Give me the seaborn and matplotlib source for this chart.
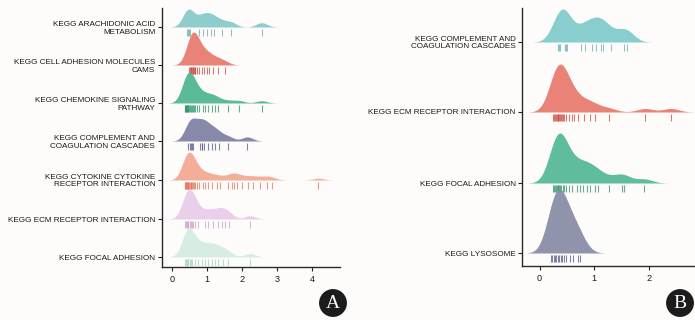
import numpy as np
import seaborn as sns
import matplotlib.pyplot as plt

# panel A: values
a_arachidonic = [0.42, 0.45, 0.47, 0.49, 0.76, 0.87, 0.98, 1.10, 1.20, 1.41, 1.68, 2.55]
a_cams = [0.48, 0.50, 0.52, 0.54, 0.56, 0.58, 0.60, 0.62, 0.64, 0.66, 0.70, 0.77, 0.84, 0.91, 0.98,
          1.06, 1.17, 1.31, 1.49]
a_chemokine = [0.36, 0.37, 0.39, 0.40, 0.42, 0.43, 0.45, 0.46, 0.48, 0.50, 0.52, 0.55, 0.58, 0.62,
               0.65, 0.70, 0.77, 0.87, 0.93, 1.03, 1.12, 1.22, 1.31, 1.60, 1.91, 2.55]
a_complement = [0.46, 0.50, 0.52, 0.56, 0.60, 0.79, 0.84, 0.86, 0.89, 1.03, 1.12, 1.22, 1.34, 1.60, 2.14]
a_cytokine = [0.36, 0.37, 0.38, 0.40, 0.41, 0.42, 0.44, 0.45, 0.46, 0.48, 0.50, 0.52, 0.54, 0.56, 0.59,
              0.62, 0.65, 0.70, 0.77, 0.87, 0.93, 1.03, 1.12, 1.27, 1.36, 1.60, 1.70, 1.76, 1.84,
              1.98, 2.17, 2.31, 2.50, 2.70, 2.84, 4.17]
a_ecm = [0.36, 0.38, 0.41, 0.44, 0.46, 0.49, 0.52, 0.55, 0.58, 0.65, 0.74, 0.93, 1.03, 1.17, 1.31,
         1.41, 1.50, 1.63, 2.22]
a_focal = [0.36, 0.38, 0.41, 0.44, 0.46, 0.49, 0.52, 0.55, 0.65, 0.74, 0.84, 0.93, 1.03, 1.12, 1.22,
           1.31, 1.46, 1.60, 2.22]

a_labels = ['KEGG ARACHIDONIC ACID\nMETABOLISM', 'KEGG CELL ADHESION MOLECULES\nCAMS',
            'KEGG CHEMOKINE SIGNALING\nPATHWAY', 'KEGG COMPLEMENT AND\nCOAGULATION CASCADES',
            'KEGG CYTOKINE CYTOKINE\nRECEPTOR INTERACTION', 'KEGG ECM RECEPTOR INTERACTION',
            'KEGG FOCAL ADHESION']

# panel B
b_complement = [0.34, 0.36, 0.37, 0.46, 0.48, 0.50, 0.76, 0.83, 0.95, 1.03, 1.12, 1.15, 1.30, 1.55, 1.59]
b_ecm = [0.25, 0.27, 0.28, 0.30, 0.31, 0.33, 0.34, 0.36, 0.37, 0.39, 0.41, 0.43, 0.45, 0.49, 0.54,
         0.59, 0.63, 0.71, 0.82, 0.92, 1.01, 1.26, 1.93, 2.40]
b_focal = [0.25, 0.27, 0.28, 0.30, 0.31, 0.33, 0.34, 0.36, 0.37, 0.40, 0.42, 0.45, 0.49, 0.54, 0.60,
           0.68, 0.74, 0.80, 0.86, 0.92, 1.02, 1.06, 1.26, 1.50, 1.54, 1.91]
b_lysosome = [0.21, 0.23, 0.26, 0.28, 0.30, 0.33, 0.36, 0.39, 0.41, 0.45, 0.49, 0.55, 0.62, 0.70, 0.74]

b_labels = ['KEGG COMPLEMENT AND\nCOAGULATION CASCADES', 'KEGG ECM RECEPTOR INTERACTION',
            'KEGG FOCAL ADHESION', 'KEGG LYSOSOME']

a_fill = ['#86c9c9', '#e8786c', '#4db690', '#7d7fa3', '#f3a891', '#e8cce9', '#d4ece3']
a_rug = ['#6aaeae', '#cc4c44', '#2f9470', '#575a85', '#e07a64', '#c9a2ca', '#a3d2c2']
b_fill = ['#7ecacb', '#e8786c', '#52b794', '#868aa5']
b_rug = ['#68b2b3', '#cc4c44', '#2f9470', '#5a5d85']

sns.set_style('ticks')
plt.rcParams['font.family'] = ['Liberation Sans', 'DejaVu Sans']
plt.rcParams['text.color'] = '#1a1a1a'

W, H = 695, 320
fig = plt.figure(figsize=(W / 100, H / 100), dpi=100, facecolor='#fdfcfa')


def px_rect(left, top, right, bottom):
    return [left / W, 1 - bottom / H, (right - left) / W, (bottom - top) / H]


def ridges(groups, labels, fills, rugs, frame, baselines, peaks, xlim, xticks, bw):
    left, top, right, bottom = frame
    ax = fig.add_axes(px_rect(left, top, right, bottom))
    ax.set_facecolor('none')
    ax.set_xlim(xlim)
    ax.set_ylim(bottom, top)
    ax.set_xticks(xticks)
    ax.set_xticklabels([str(t) for t in xticks])
    ax.set_yticks(baselines)
    ax.set_yticklabels(labels, linespacing=1.1)
    ax.tick_params(labelsize=5.9, length=3, width=0.8, color='#222222', pad=1.5, labelcolor='#1a1a1a')
    ax.tick_params(axis='x', labelsize=6.6, pad=2.5)
    for s in ['left', 'bottom']:
        ax.spines[s].set_linewidth(1.0)
        ax.spines[s].set_color('#2a2a2a')
    sns.despine(ax=ax)

    for vals, base, pk, fc, rc in zip(groups, baselines, peaks, fills, rugs):
        rax = fig.add_axes(px_rect(left, base - pk, right, base + 2))
        sns.kdeplot(x=vals, ax=rax, fill=True, color=fc, alpha=0.92, linewidth=0,
                    bw_method=bw / np.std(vals, ddof=1), cut=3)
        ymax = max(p.vertices[:, 1].max() for p in rax.collections[0].get_paths())
        sns.rugplot(x=vals, ax=rax, height=-7 / (pk + 2), color=rc, alpha=0.75,
                    linewidth=0.8, clip_on=False, expand_margins=False)
        rax.set_ylim(-ymax * 2 / pk, ymax)
        rax.set_xlim(xlim)
        rax.axis('off')


ridges([a_arachidonic, a_cams, a_chemokine, a_complement, a_cytokine, a_ecm, a_focal],
       a_labels, a_fill, a_rug,
       frame=(161.5, 8, 340, 267),
       baselines=[27, 65, 103, 141, 180, 219, 257],
       peaks=[18, 33, 31, 23, 28, 30, 29],
       xlim=(-0.31, 4.79), xticks=[0, 1, 2, 3, 4], bw=0.16)

ridges([b_complement, b_ecm, b_focal, b_lysosome],
       b_labels, b_fill, b_rug,
       frame=(522, 8, 700, 266),
       baselines=[42, 112, 183, 253],
       peaks=[33, 48, 50, 64],
       xlim=(-0.32, 2.93), xticks=[0, 1, 2], bw=0.15)

for letter, (cx, cy) in [('A', (333, 303)), ('B', (680, 303))]:
    fig.text(cx / W, 1 - cy / H, letter, ha='center', va='center', color='white', fontsize=14,
             family=['Liberation Serif', 'DejaVu Serif'],
             bbox=dict(boxstyle='circle,pad=0.28', fc='#1c1c1c', ec='none'))

fig.savefig('out.png', dpi=100, facecolor=fig.get_facecolor())
